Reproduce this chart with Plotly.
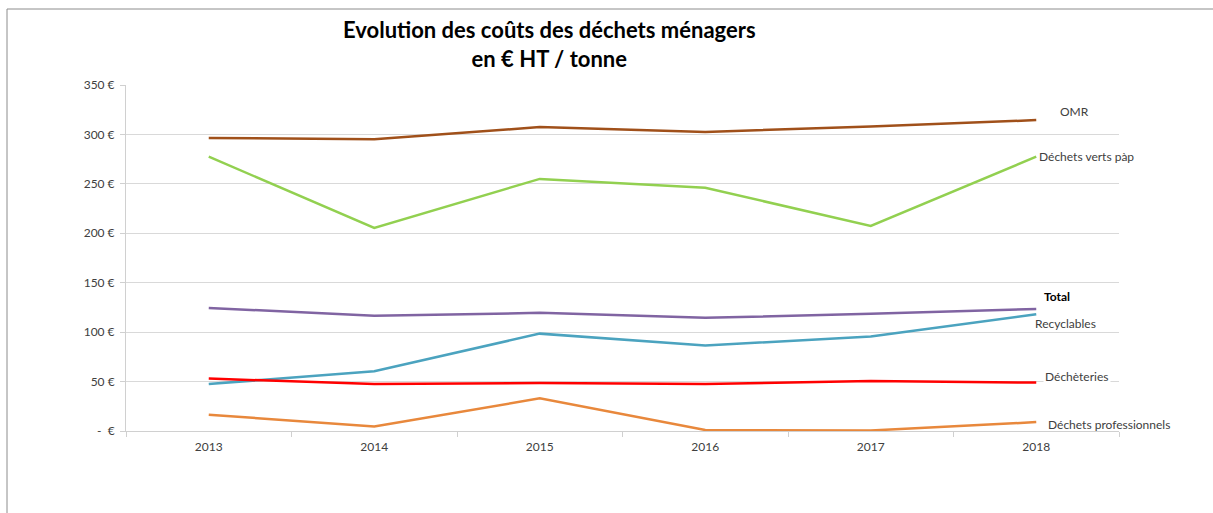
import plotly.graph_objects as go

# Years on the category axis
years = ["2013", "2014", "2015", "2016", "2017", "2018"]

# Cost per tonne (€ HT) for each waste stream
omr = [296.5, 295, 307.5, 302.5, 308, 314.5]
dechets_verts = [277.5, 205.5, 255, 246, 207.5, 277.5]
recyclables = [47.5, 60.5, 98.5, 86.5, 95.5, 118]
decheteries = [53, 47.5, 48.5, 47.5, 50.5, 49]
dechets_pro = [16.5, 4.5, 33, 1, 0.5, 9]
total = [124.5, 116.5, 119.5, 114.5, 118.5, 123.5]

# Y axis ticks
y_tickvals = [0, 50, 100, 150, 200, 250, 300, 350]
y_ticktext = ["-  €", "50 €", "100 €", "150 €", "200 €", "250 €", "300 €", "350 €"]

FONT = "Lato, 'Open Sans', sans-serif"

W, H = 1213, 513
L, R, T, B = 126, 94, 85, 82
pw, ph = W - L - R, H - T - B

series = [
    ("OMR", omr, "#A0501A", dict(yshift=9, xshift=22), False),
    ("Déchets verts pàp", dechets_verts, "#92D050", dict(yshift=0, xshift=1), False),
    ("Recyclables", recyclables, "#4BA3BF", dict(yshift=-9, xshift=-3), False),
    ("Déchèteries", decheteries, "#FF0000", dict(yshift=6, xshift=7), False),
    ("Déchets professionnels", dechets_pro, "#E8883C", dict(yshift=-2, xshift=10), False),
    ("Total", total, "#8064A2", dict(yshift=12, xshift=6), True),
]

fig = go.Figure()
for name, vals, color, _, _ in series:
    fig.add_trace(go.Scatter(
        x=years, y=vals, mode="lines", name=name,
        line=dict(color=color, width=2.5),
        hoverinfo="x+y+name",
    ))

last = len(years) - 1
annotations = []
for name, vals, color, off, bold in series:
    annotations.append(dict(
        x=last, y=vals[-1], xref="x", yref="y",
        text=f"<b>{name}</b>" if bold else name,
        showarrow=False, xanchor="left", yanchor="middle",
        xshift=off["xshift"], yshift=off["yshift"],
        font=dict(family=FONT, size=12, color="#000000" if bold else "#404040"),
        bgcolor="white" if name == "Déchèteries" else "rgba(0,0,0,0)",
        borderpad=1,
    ))

# Two-line bold title above the plot area
annotations.append(dict(
    x=(549 - L) / pw, y=(431 - 44) / ph, xref="paper", yref="paper",
    text="<b>Evolution des coûts des déchets ménagers<br>en € HT / tonne</b>",
    showarrow=False, xanchor="center", yanchor="middle",
    font=dict(family=FONT, size=22, color="#000000"),
))

# Chart frame: left and top edges (the others fall outside the page)
fx0, fx1 = (7 - L) / pw, (1260 - L) / pw
fy0, fy1 = (431 - 560) / ph, (431 - 9) / ph

fig.update_layout(
    width=W, height=H,
    margin=dict(l=L, r=R, t=T, b=B),
    paper_bgcolor="white", plot_bgcolor="white",
    showlegend=False,
    font=dict(family=FONT, size=12, color="#595959"),
    annotations=annotations,
    shapes=[
        dict(type="line", xref="paper", yref="paper",
             x0=fx0, x1=fx0, y0=fy0, y1=fy1,
             line=dict(color="#8C8C8C", width=1), layer="below"),
        dict(type="line", xref="paper", yref="paper",
             x0=fx0, x1=fx1, y0=fy1, y1=fy1,
             line=dict(color="#8C8C8C", width=1), layer="below"),
    ],
)

fig.update_xaxes(
    type="category", range=[-0.5, 5.5],
    showline=True, linecolor="#D0D0D0", linewidth=1,
    ticks="outside", tickson="boundaries", ticklen=5, tickcolor="#D0D0D0",
    showgrid=False, zeroline=False,
    tickfont=dict(family=FONT, size=12, color="#404040"),
    ticklabelstandoff=5,
)
fig.update_yaxes(
    range=[0, 350], tickvals=y_tickvals, ticktext=y_ticktext,
    showline=True, linecolor="#D0D0D0", linewidth=1,
    ticks="outside", ticklen=5, tickcolor="#D0D0D0",
    showgrid=True, gridcolor="#D9D9D9", gridwidth=1,
    zeroline=False,
    tickfont=dict(family=FONT, size=12, color="#404040"),
    ticklabelstandoff=3,
)

fig.write_html("out.html")
